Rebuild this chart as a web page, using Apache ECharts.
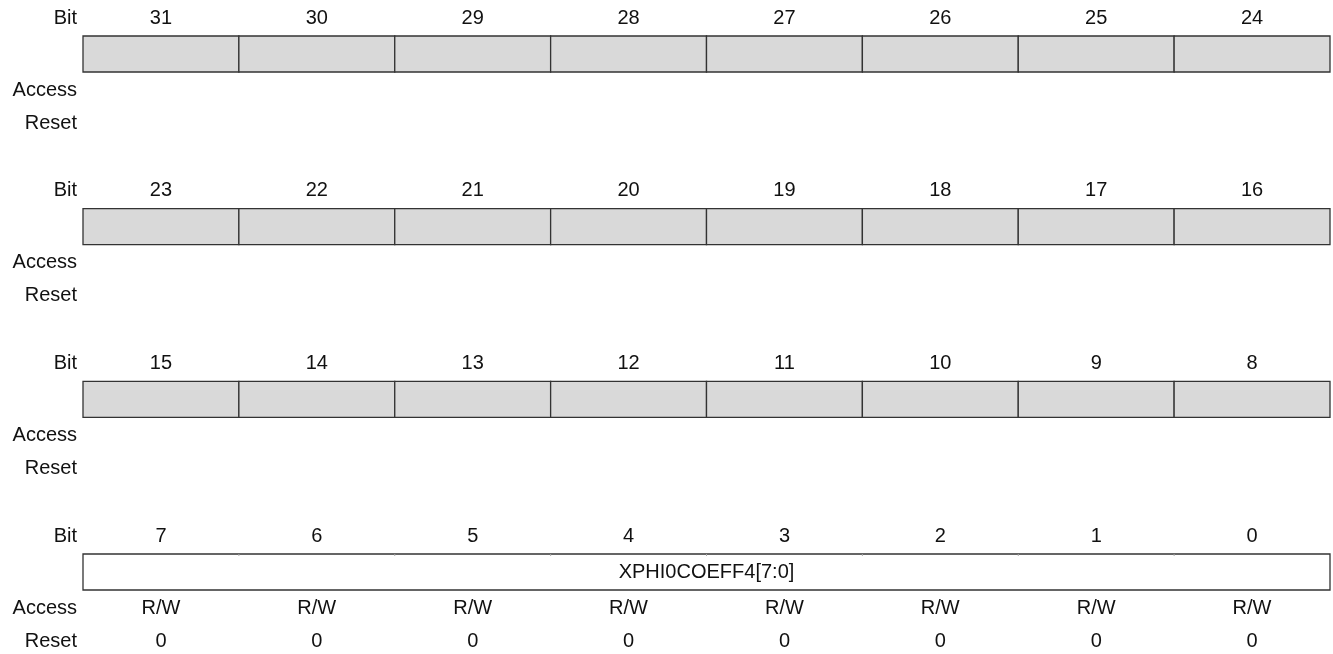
<!DOCTYPE html>
<html lang="en">
<head>
    <meta charset="UTF-8">
    <title>register</title>
    <style>
        body {
            margin: 0;
            padding: 0;
            background: #fff;
        }
        #chart {
            width: 1333px;
            height: 654px;
        }
    </style>
</head>
<body>
<div id="chart"></div>
<script src="https://cdn.jsdelivr.net/npm/echarts@6/dist/echarts.min.js"></script>
<script>
    // register layout: one row per byte, msb first
    const bitNumbers = [
        [31, 30, 29, 28, 27, 26, 25, 24],
        [23, 22, 21, 20, 19, 18, 17, 16],
        [15, 14, 13, 12, 11, 10, 9, 8],
        [7, 6, 5, 4, 3, 2, 1, 0]
    ];
    const accessValues = [
        ["", "", "", "", "", "", "", ""],
        ["", "", "", "", "", "", "", ""],
        ["", "", "", "", "", "", "", ""],
        ["R/W", "R/W", "R/W", "R/W", "R/W", "R/W", "R/W", "R/W"]
    ];
    const resetValues = [
        ["", "", "", "", "", "", "", ""],
        ["", "", "", "", "", "", "", ""],
        ["", "", "", "", "", "", "", ""],
        ["0", "0", "0", "0", "0", "0", "0", "0"]
    ];
    const fieldNames = ["XPHI0COEFF4[7:0]"];
    const fieldMsb = [7];
    const fieldLsb = [0];
    const rowLabels = ["Bit", "Access", "Reset"];

    const font = "Liberation Sans, Arial, sans-serif";
    const fontSize = 20;
    const textColor = "#111";
    const lineColor = "#333";

    function bitInField(bit) {
        for (let i = 0; i < fieldNames.length; i++) {
            if (bit <= fieldMsb[i] && bit >= fieldLsb[i]) return i;
        }
        return -1;
    }

    // cells: [col, row, bit]
    const cellData = [];
    bitNumbers.forEach((row, r) => {
        row.forEach((bit, c) => {
            cellData.push([c, r, bit]);
        });
    });

    // fields: [startCol, endCol, row, index]
    const fieldData = [];
    fieldNames.forEach((name, i) => {
        bitNumbers.forEach((row, r) => {
            const cols = [];
            row.forEach((bit, c) => {
                if (bit <= fieldMsb[i] && bit >= fieldLsb[i]) cols.push(c);
            });
            if (cols.length) {
                fieldData.push([Math.min(...cols), Math.max(...cols) + 1, r, i]);
            }
        });
    });

    const textStyle = (text, x, y, align) => ({
        type: "text",
        style: {
            text: text,
            x: x,
            y: y,
            align: align || "center",
            verticalAlign: "middle",
            font: fontSize + "px " + font,
            fill: textColor
        }
    });

    function renderCell(params, api) {
        const c = api.value(0);
        const r = api.value(1);
        const bit = api.value(2);
        const p0 = api.coord([c, r]);
        const p1 = api.coord([c + 1, r]);
        const mid = (p0[0] + p1[0]) / 2;
        const children = [];
        children.push(textStyle(String(bit), mid, p0[1] - 36));
        if (bitInField(bit) < 0) {
            children.push({
                type: "rect",
                shape: {x: p0[0], y: p0[1] - 18, width: p1[0] - p0[0], height: 36},
                style: {fill: "#d9d9d9", stroke: lineColor, lineWidth: 1.3}
            });
        }
        const acc = accessValues[r][c];
        const rst = resetValues[r][c];
        if (acc) children.push(textStyle(acc, mid, p0[1] + 36));
        if (rst) children.push(textStyle(rst, mid, p0[1] + 69));
        return {type: "group", children};
    }

    function renderField(params, api) {
        const s = api.value(0);
        const e = api.value(1);
        const r = api.value(2);
        const idx = api.value(3);
        const p0 = api.coord([s, r]);
        const p1 = api.coord([e, r]);
        const children = [{
            type: "rect",
            shape: {x: p0[0], y: p0[1] - 18, width: p1[0] - p0[0], height: 36},
            style: {fill: "#fff", stroke: lineColor, lineWidth: 1.3}
        }];
        // small marks where the bit boundaries are
        for (let k = s + 1; k < e; k++) {
            const pk = api.coord([k, r]);
            children.push({
                type: "line",
                shape: {x1: pk[0], y1: p0[1] - 18, x2: pk[0], y2: p0[1] - 16},
                style: {stroke: "#aaa", lineWidth: 1}
            });
        }
        children.push(textStyle(fieldNames[idx], (p0[0] + p1[0]) / 2, p0[1]));
        return {type: "group", children};
    }

    function renderRowLabel(params, api) {
        const r = api.value(0);
        const p = api.coord([0, r]);
        const x = p[0] - 6;
        return {
            type: "group",
            children: [
                textStyle(rowLabels[0], x, p[1] - 36, "right"),
                textStyle(rowLabels[1], x, p[1] + 36, "right"),
                textStyle(rowLabels[2], x, p[1] + 69, "right")
            ]
        };
    }

    const chart = echarts.init(document.getElementById("chart"));
    const option = {
        backgroundColor: "#fff",
        animation: false,
        grid: {left: 83, right: 3, top: 54, bottom: 82},
        xAxis: {type: "value", min: 0, max: 8, show: false},
        yAxis: {type: "value", min: 0, max: 3, inverse: true, show: false},
        series: [
            {
                type: "custom",
                name: "cells",
                renderItem: renderCell,
                data: cellData,
                z: 2
            },
            {
                type: "custom",
                name: "fields",
                renderItem: renderField,
                data: fieldData,
                z: 3
            },
            {
                type: "custom",
                name: "labels",
                renderItem: renderRowLabel,
                data: bitNumbers.map((row, r) => [r]),
                z: 4
            }
        ]
    };
    chart.setOption(option);
</script>
</body>
</html>
